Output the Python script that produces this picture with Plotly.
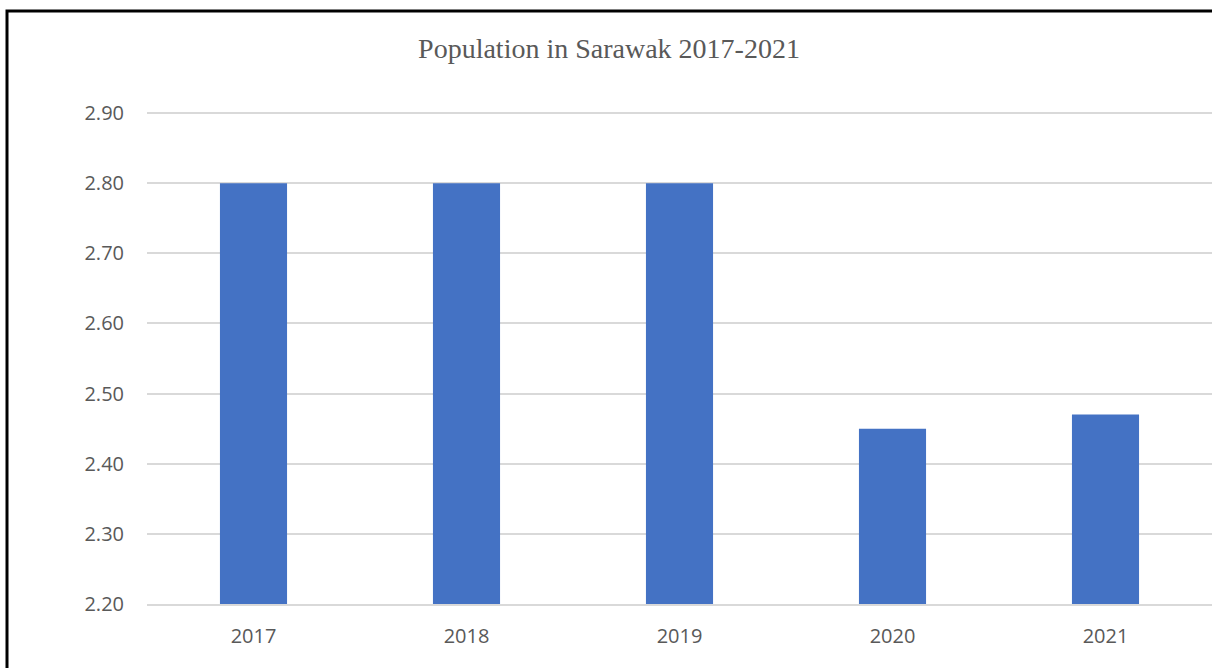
import plotly.graph_objects as go

years = ["2017", "2018", "2019", "2020", "2021"]
population = [2.80, 2.80, 2.80, 2.45, 2.47]
y_ticks = [2.20, 2.30, 2.40, 2.50, 2.60, 2.70, 2.80, 2.90]

W, H = 1212, 668
L, R, T, B = 147, 0, 108, 64
pw, ph = W - L - R, H - T - B
y_top = 2.2 + 0.7 * ph / 491  # keeps 2.90 at the same pixel row

fig = go.Figure(go.Bar(x=years, y=population, marker_color="#4472C4",
                       marker_line_width=0, width=0.315))

fig.update_layout(
    width=W, height=H,
    margin=dict(l=L, r=R, t=T, b=B),
    paper_bgcolor="white", plot_bgcolor="white",
    showlegend=False,
    title=dict(text="Population in Sarawak 2017-2021", x=609 / W,
               xanchor="center", y=1 - 48 / H, yanchor="middle",
               font=dict(family="Liberation Serif", size=28, color="#595959")),
    font=dict(family="Open Sans", color="#595959"),
)
fig.update_xaxes(type="category", showgrid=False, showline=True, linecolor="#d9d9d9",
                 linewidth=1.5, ticks="", ticklabelstandoff=13,
                 tickfont=dict(family="Open Sans", size=20, color="#595959"))
fig.update_yaxes(range=[2.2, y_top], tickvals=y_ticks,
                 ticktext=[f"{v:.2f}" for v in y_ticks],
                 showgrid=True, gridcolor="#d9d9d9", gridwidth=1.5,
                 zeroline=False, showline=False, ticks="", ticklabelstandoff=22,
                 tickfont=dict(family="Open Sans", size=20, color="#595959"))

# outer chart frame
x0 = (7 - L) / pw
y1 = (H - B - 11) / ph
fig.add_shape(type="rect", xref="paper", yref="paper", x0=x0, x1=1.05, y0=-0.3, y1=y1,
              line=dict(color="black", width=3), fillcolor="rgba(0,0,0,0)", layer="above")

fig.write_html("out.html", config={"displayModeBar": False},
               post_script="document.body.style.margin='0';")
